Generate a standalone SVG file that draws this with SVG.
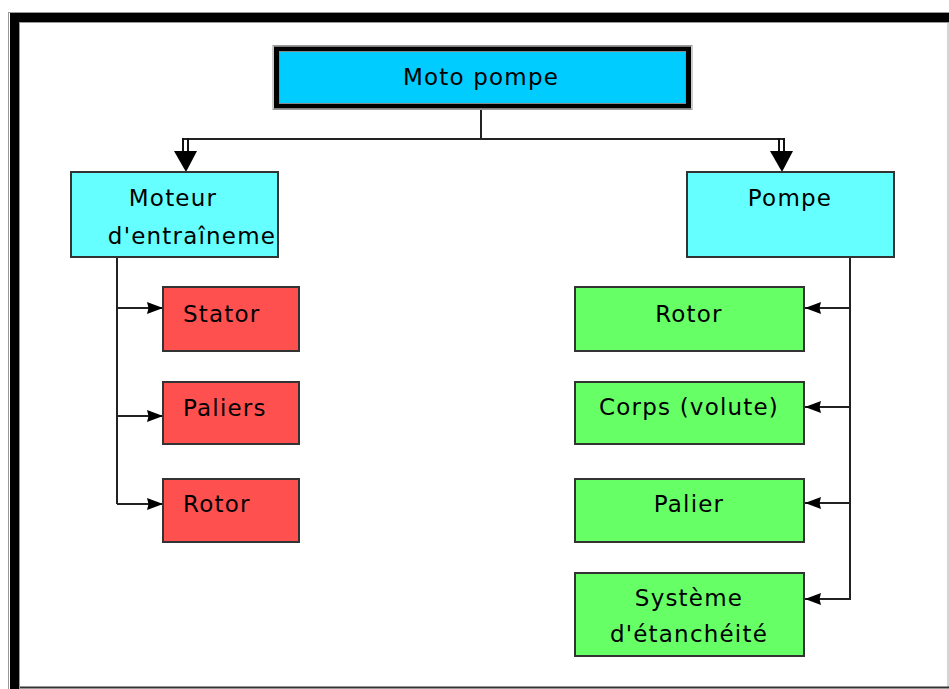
<svg xmlns="http://www.w3.org/2000/svg" width="949" height="689" viewBox="0 0 949 689">
<style>
.box{stroke:#333;stroke-width:2}
.lvl1{fill:#66FFFF}
.red{fill:#FF5050}
.green{fill:#66FF66}
.t{font-family:"DejaVu Sans",sans-serif;font-size:23px;letter-spacing:1.2px;fill:#000}
.c{text-anchor:middle}
.ln{fill:none;stroke:#222;stroke-width:2}
</style>
<defs>
<marker id="ah" viewBox="0 0 16 12" refX="16" refY="6" markerWidth="16" markerHeight="12" markerUnits="userSpaceOnUse" orient="auto">
<path d="M0,0 L16,6 L0,12 L1.5,6 Z" fill="#000"/>
</marker>
</defs>
<rect x="0" y="0" width="949" height="689" fill="#fff"/>
<g id="frame">
<rect x="10" y="13" width="939" height="9" fill="#000"/>
<rect x="10" y="13" width="9" height="676" fill="#000"/>
<line x1="8.5" y1="12" x2="8.5" y2="689" stroke="#999" stroke-width="1"/>
<line x1="8" y1="12.5" x2="949" y2="12.5" stroke="#999" stroke-width="1"/>
<line x1="19.5" y1="22" x2="19.5" y2="689" stroke="#999" stroke-width="1"/>
<line x1="19" y1="22.5" x2="949" y2="22.5" stroke="#999" stroke-width="1"/>
<line x1="948" y1="22" x2="948" y2="687" stroke="#aaa" stroke-width="1"/>
<line x1="20" y1="687.5" x2="949" y2="687.5" stroke="#333" stroke-width="2"/>
</g>
<g id="connectors">
<line class="ln" x1="481" y1="110" x2="481" y2="139"/>
<line class="ln" x1="183" y1="139" x2="784" y2="139"/>
<line x1="183" y1="138" x2="183" y2="153" stroke="#111" stroke-width="2"/>
<line x1="188" y1="138" x2="188" y2="153" stroke="#111" stroke-width="2"/>
<path d="M174,151 L197,151 L186,172 Z" fill="#000"/>
<line x1="779" y1="138" x2="779" y2="153" stroke="#111" stroke-width="2"/>
<line x1="784" y1="138" x2="784" y2="153" stroke="#111" stroke-width="2"/>
<path d="M770,151 L793,151 L782,172 Z" fill="#000"/>
<path class="ln" d="M117,257 L117,504"/>
<line class="ln" x1="117" y1="308" x2="163" y2="308" marker-end="url(#ah)"/>
<line class="ln" x1="117" y1="416" x2="163" y2="416" marker-end="url(#ah)"/>
<line class="ln" x1="117" y1="504" x2="163" y2="504" marker-end="url(#ah)"/>
<path class="ln" d="M850,257 L850,600"/>
<line class="ln" x1="850" y1="308" x2="805" y2="308" marker-end="url(#ah)"/>
<line class="ln" x1="850" y1="407" x2="805" y2="407" marker-end="url(#ah)"/>
<line class="ln" x1="850" y1="503" x2="805" y2="503" marker-end="url(#ah)"/>
<line class="ln" x1="850" y1="599" x2="805" y2="599" marker-end="url(#ah)"/>
</g>
<g id="moto-pompe">
<rect x="273" y="45.5" width="419" height="64" fill="none" stroke="#999" stroke-width="1"/>
<rect x="276" y="48.5" width="413" height="58" fill="#000" stroke="#000" stroke-width="4"/>
<rect x="279.5" y="51.5" width="406" height="52" fill="#00CCFF" stroke="#888" stroke-width="1"/>
<text class="t c" x="481" y="85">Moto pompe</text>
</g>
<g id="moteur">
<rect class="box lvl1" x="71" y="172" width="207" height="85"/>
<text class="t c" x="173" y="206">Moteur</text>
<text class="t c" x="192" y="244">d'entraîneme</text>
</g>
<g id="pompe">
<rect class="box lvl1" x="687" y="172" width="207" height="85"/>
<text class="t c" x="790" y="206">Pompe</text>
</g>
<g id="stator">
<rect class="box red" x="163" y="287" width="136" height="64"/>
<text class="t" x="183" y="322">Stator</text>
</g>
<g id="paliers">
<rect class="box red" x="163" y="382" width="136" height="62"/>
<text class="t" x="183" y="416">Paliers</text>
</g>
<g id="rotor-moteur">
<rect class="box red" x="163" y="479" width="136" height="63"/>
<text class="t" x="183" y="512">Rotor</text>
</g>
<g id="rotor-pompe">
<rect class="box green" x="575" y="287" width="229" height="64"/>
<text class="t c" x="689" y="322">Rotor</text>
</g>
<g id="corps">
<rect class="box green" x="575" y="382" width="229" height="62"/>
<text class="t c" x="689" y="415">Corps (volute)</text>
</g>
<g id="palier">
<rect class="box green" x="575" y="479" width="229" height="63"/>
<text class="t c" x="689" y="512">Palier</text>
</g>
<g id="systeme">
<rect class="box green" x="575" y="573" width="229" height="83"/>
<text class="t c" x="689" y="606">Système</text>
<text class="t c" x="689" y="642">d'étanchéité</text>
</g>
</svg>
